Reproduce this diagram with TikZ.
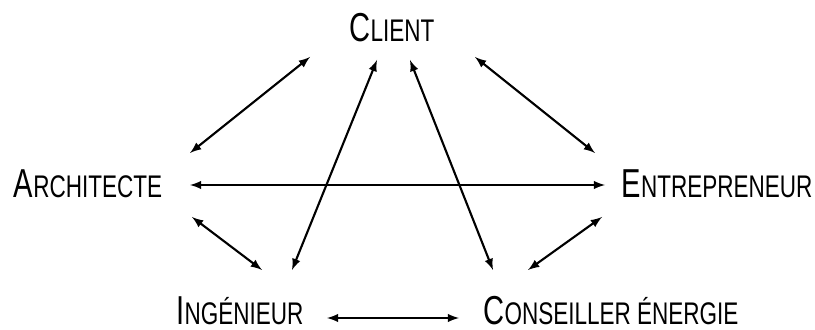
\documentclass[tikz,border=0pt]{standalone}
\usepackage{fontspec}
\setmainfont[FakeStretch=0.72]{Liberation Sans}
\newcommand{\smc}[2]{{\fontsize{23}{24}\selectfont #1}{\fontsize{17.8}{20}\selectfont #2}}
\begin{document}
\begin{tikzpicture}[x=0.02cm,y=-0.02cm,>=latex]
        \useasboundingbox (0,0) rectangle (815,330);
        \tikzset{lien/.style={<->,line width=1.2pt}}

        \node[anchor=base,inner sep=0pt] (client) at (392,42) {\smc{C}{LIENT}};
        \node[anchor=base,inner sep=0pt] (archi) at (88,198) {\smc{A}{RCHITECTE}};
        \node[anchor=base,inner sep=0pt] (entre) at (717,198) {\smc{E}{NTREPRENEUR}};
        \node[anchor=base,inner sep=0pt] (inge) at (240,325) {\smc{I}{NGÉNIEUR}};
        \node[anchor=base,inner sep=0pt] (conseil) at (611,325) {\smc{C}{ONSEILLER ÉNERGIE}};

        \coordinate (cl1) at (310,57);
        \coordinate (cl2) at (377,60);
        \coordinate (cl3) at (410,60);
        \coordinate (cl4) at (475,57);
        \coordinate (ar1) at (190,153);
        \coordinate (ar2) at (190,185);
        \coordinate (ar3) at (192,217);
        \coordinate (en1) at (595,153);
        \coordinate (en2) at (605,185);
        \coordinate (en3) at (602,217);
        \coordinate (in1) at (262,270);
        \coordinate (in2) at (292,270);
        \coordinate (in3) at (327,318);
        \coordinate (co1) at (493,270);
        \coordinate (co2) at (528,270);
        \coordinate (co3) at (459,318);

        \draw[lien] (cl1) -- (ar1);
        \draw[lien] (cl4) -- (en1);
        \draw[lien] (ar2) -- (en2);
        \draw[lien] (ar3) -- (in1);
        \draw[lien] (in2) -- (cl2);
        \draw[lien] (cl3) -- (co1);
        \draw[lien] (en3) -- (co2);
        \draw[lien] (in3) -- (co3);
    \end{tikzpicture}
\end{document}
